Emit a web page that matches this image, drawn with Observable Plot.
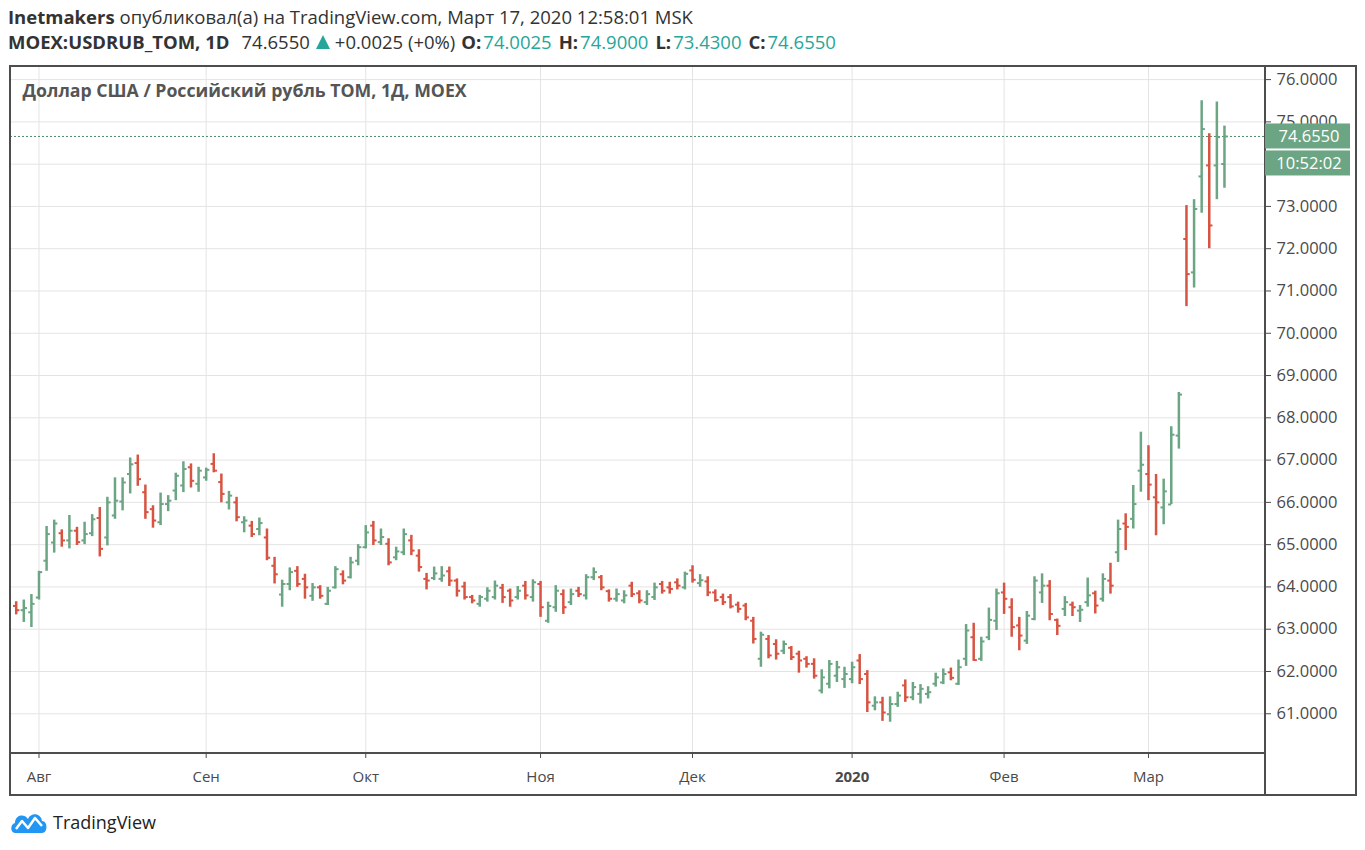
<!DOCTYPE html>
<html><head><meta charset="utf-8">
<script src="https://cdn.jsdelivr.net/npm/d3@7"></script>
<script src="https://cdn.jsdelivr.net/npm/@observablehq/plot@0.6"></script>
<style>
body{margin:0;background:#fff;font-family:"Open Sans",sans-serif;width:1365px;height:850px;position:relative;overflow:hidden}
.hl{position:absolute;left:8px;font-size:18.5px;color:#333;white-space:nowrap;line-height:22px;display:flex;align-items:center}
.b{font-weight:bold}
.t{color:#26a69a}
#chart{position:absolute;left:0;top:60px}
#foot{position:absolute;left:10px;top:810px;display:flex;align-items:center;gap:5px;font-size:18px;color:#222}
</style></head><body>
<div class="hl" id="h1" style="top:6px"><span class="b">Inetmakers</span><span style="margin-left:5px">опубликовал(а) на TradingView.com, Март 17, 2020 12:58:01 MSK</span></div>
<div class="hl" id="h2" style="top:31px"><span class="b">MOEX:USDRUB_TOM, 1D</span><span style="margin-left:12px">74.6550</span><svg style="margin-left:6px" width="14" height="14" viewBox="0 0 14 14"><path d="M7 0 L14 14 L0 14 Z" fill="#26a69a"/></svg><span style="margin-left:5px">+0.0025 (+0%)</span><span class="b" style="margin-left:6px">O:</span><span class="t" style="margin-left:2px">74.0025</span><span class="b" style="margin-left:7px">H:</span><span class="t" style="margin-left:2px">74.9000</span><span class="b" style="margin-left:7px">L:</span><span class="t" style="margin-left:2px">73.4300</span><span class="b" style="margin-left:7px">C:</span><span class="t" style="margin-left:2px">74.6550</span></div>
<div id="chart"></div>
<div id="foot"><svg width="38" height="24" viewBox="0 0 38 24"><path d="M5 23 C0 23 0 14 5 13 C5 5 14 3 18 9 C21 2 31 3 32 11 C38 11 38 23 32 23 Z" fill="#2196f3"/><polyline points="6,19 12,11 18,18 25,8 32,16" fill="none" stroke="#fff" stroke-width="2.5" stroke-linejoin="round"/></svg><span>TradingView</span></div>
<script>
const open  = [63.55,63.45,63.40,63.75,64.62,65.05,65.27,65.10,65.33,65.10,65.27,65.63,65.17,65.69,66.02,66.67,66.93,66.24,65.84,65.53,65.96,66.28,
66.40,66.83,66.44,66.59,66.91,66.48,66.00,66.00,65.53,65.45,65.37,65.17,64.50,63.82,64.07,64.38,64.19,63.79,63.99,63.60,63.99,64.30,64.23,
64.62,64.94,65.45,65.06,65.02,64.70,64.82,65.10,64.74,64.19,64.21,64.19,64.37,64.15,64.01,63.76,63.60,63.72,63.76,63.98,63.91,63.76,
64.03,63.76,64.07,63.20,63.52,63.83,63.64,63.91,63.80,64.23,64.23,63.90,63.72,63.68,64.03,63.85,63.64,63.76,64.07,63.99,64.11,63.99,64.39,64.09,64.13,
63.87,63.76,63.76,63.58,63.56,63.20,62.30,62.77,62.65,62.49,62.56,62.42,62.30,62.18,61.55,61.71,61.90,61.82,61.82,62.26,61.94,61.19,61.27,60.99,
61.23,61.67,61.39,61.47,61.47,61.71,61.74,61.98,61.71,62.30,62.81,62.30,62.81,63.20,63.87,63.52,63.09,62.73,63.24,63.87,64.03,63.22,
63.48,63.58,63.44,63.64,63.85,63.72,64.15,64.82,65.50,65.61,66.75,66.67,66.12,65.88,65.95,67.58,72.23,71.44,73.71,73.97,73.97,74.0025];
const high  = [63.65,63.69,63.82,64.37,65.43,65.58,65.35,65.69,65.41,65.53,65.71,65.88,66.12,66.58,66.58,67.05,67.12,66.41,65.92,66.22,66.16,66.69,
66.96,66.91,66.83,66.81,67.15,66.67,66.26,66.12,65.66,65.55,65.63,65.37,64.70,64.16,64.45,64.48,64.30,64.08,64.03,63.99,64.48,64.38,64.70,
65.00,65.45,65.55,65.37,65.14,64.94,65.37,65.22,64.88,64.32,64.47,64.48,64.47,64.19,64.11,63.80,63.80,63.98,64.14,64.06,63.95,64.01,
64.13,64.17,64.13,63.64,64.03,63.93,63.95,63.99,64.29,64.45,64.27,63.93,63.95,63.91,64.11,63.91,63.91,64.09,64.13,64.11,64.19,64.35,64.50,64.29,64.24,
63.93,63.83,63.82,63.64,63.61,63.28,62.93,62.85,62.75,62.72,62.59,62.48,62.35,62.30,62.04,62.26,62.24,62.10,62.22,62.40,62.02,61.40,61.39,61.40,
61.51,61.80,61.74,61.69,61.64,61.96,62.06,62.08,62.27,63.11,63.14,62.81,63.50,63.95,64.09,63.72,63.28,63.42,64.24,64.31,64.15,63.24,
63.77,63.64,63.56,64.21,63.90,64.31,64.56,65.58,65.73,66.40,67.66,67.34,66.66,66.55,67.79,68.60,73.02,73.16,75.50,74.72,75.47,74.90];
const low   = [63.34,63.16,63.04,63.69,64.37,64.80,64.94,64.90,64.98,65.00,65.19,64.71,64.97,65.60,65.80,66.20,66.38,65.60,65.39,65.45,65.78,66.04,
66.23,66.34,66.24,66.50,66.70,65.99,65.82,65.54,65.28,65.17,65.21,64.62,64.07,63.52,63.91,63.99,63.71,63.66,63.71,63.56,63.95,64.05,64.19,
64.50,64.90,64.98,64.98,64.50,64.62,64.74,64.74,64.35,63.93,64.15,64.11,64.01,63.76,63.69,63.60,63.52,63.64,63.69,63.61,63.52,63.69,
63.69,63.64,63.28,63.14,63.40,63.35,63.56,63.75,63.69,64.15,63.91,63.64,63.64,63.60,63.75,63.60,63.56,63.68,63.83,63.83,63.93,63.93,64.09,63.99,63.77,
63.64,63.56,63.48,63.38,63.20,62.65,62.10,62.30,62.27,62.40,62.26,61.96,62.08,61.82,61.47,61.59,61.74,61.60,61.71,61.69,61.03,61.07,60.82,60.80,
61.15,61.27,61.31,61.23,61.35,61.63,61.69,61.78,61.67,62.12,62.24,62.24,62.73,62.97,63.35,62.81,62.49,62.64,63.20,63.61,63.20,62.85,
63.30,63.30,63.16,63.52,63.36,63.64,63.83,64.58,64.86,65.37,66.24,66.04,65.21,65.47,65.95,67.26,70.63,71.07,72.84,72.00,73.16,73.43];
const close = [63.45,63.50,63.60,64.35,65.25,65.50,65.10,65.33,65.06,65.25,65.60,64.90,66.00,66.04,66.47,66.90,66.55,65.77,65.57,65.96,66.04,66.63,
66.79,66.51,66.75,66.77,66.75,66.20,66.16,65.65,65.57,65.25,65.51,64.69,64.30,64.07,64.35,64.07,63.99,63.99,63.79,63.91,64.42,64.15,64.58,
64.94,65.29,65.10,65.18,64.58,64.84,65.25,64.86,64.47,64.15,64.32,64.27,64.15,63.91,63.76,63.68,63.76,63.91,64.03,63.76,63.68,63.91,
63.80,64.11,63.52,63.55,63.91,63.52,63.83,63.83,64.23,64.35,63.99,63.72,63.83,63.80,63.83,63.68,63.83,63.99,63.91,63.95,64.03,64.31,64.17,64.16,63.87,
63.69,63.64,63.54,63.48,63.28,62.77,62.87,62.38,62.42,62.65,62.34,62.26,62.18,61.90,61.86,62.18,62.10,61.94,62.10,61.82,61.27,61.27,61.03,61.23,
61.43,61.39,61.63,61.59,61.51,61.86,61.94,61.85,62.10,62.97,62.27,62.71,63.22,63.85,63.72,63.05,62.85,63.32,64.15,64.03,63.36,63.08,
63.64,63.52,63.46,63.80,63.56,64.19,64.03,65.37,65.42,65.96,66.89,66.42,66.00,66.26,67.60,68.55,71.40,72.94,74.83,72.55,74.64,74.655];

const monthLabels = ["Авг","Сен","Окт","Ноя","Дек","2020","Фев","Мар"];
const monthStart  = [3,25,46,69,89,110,130,149];
const yTicks = [61,62,63,64,65,66,67,68,69,70,71,72,73,74,75,76];
const yLabelTicks = [61,62,63,64,65,66,67,68,69,70,71,72,73,75,76]; // 74.0000 is hidden behind the time tag
const lastPrice = 74.655;
const lastTime = "10:52:02";
const title = "Доллар США / Российский рубль TOM, 1Д, MOEX";

const UP = "#6ba583", DN = "#d75442";
const bars = open.map((o,i)=>({i, o, h:high[i], l:low[i], c:close[i], col: close[i] >= o ? UP : DN}));
const yearIdx = monthStart[monthLabels.indexOf("2020")];
const lab = d => monthLabels[monthStart.indexOf(d)];

const plot = Plot.plot({
  width:1365, height:745,
  marginLeft:10, marginRight:100, marginTop:6, marginBottom:52,
  style:{fontFamily:"'Open Sans', sans-serif", fontSize:"16px", background:"transparent", overflow:"visible"},
  x:{domain:[-0.75,164.4], axis:null},
  y:{domain:[60.06,76.31], axis:null},
  color:{type:"identity"},
  marks:[
    Plot.gridY(yTicks,{stroke:"#e4e4e4", strokeOpacity:1}),
    Plot.gridX(monthStart,{stroke:"#e4e4e4", strokeOpacity:1}),
    Plot.axisY(yTicks,{anchor:"right", tickFormat:null, text:null, label:null, tickSize:5, stroke:"#4a4a4a"}),
    Plot.axisY(yLabelTicks,{anchor:"right", tickFormat:d=>d.toFixed(4), label:null, tickSize:0, tickPadding:11, fill:"#4a4a4a", fontSize:16.5}),
    Plot.axisX(monthStart.filter(d=>d!==yearIdx),{anchor:"bottom", tickFormat:lab, label:null, tickSize:5, tickPadding:13, color:"#4a4a4a", fontSize:15}),
    Plot.axisX([yearIdx],{anchor:"bottom", tickFormat:lab, label:null, tickSize:5, tickPadding:13, color:"#4a4a4a", fontSize:15, fontWeight:"bold"}),
    Plot.ruleY([lastPrice],{stroke:"#4f8a6a", strokeDasharray:"2,2", strokeWidth:1}),
    Plot.ruleX(bars,{x:"i", y1:"l", y2:"h", stroke:"col", strokeWidth:2.5}),
    Plot.link(bars,{x1:d=>d.i-0.42, x2:"i", y1:"o", y2:"o", stroke:"col", strokeWidth:2}),
    Plot.link(bars,{x1:"i", x2:d=>d.i+0.42, y1:"c", y2:"c", stroke:"col", strokeWidth:2}),
    Plot.text([title],{frameAnchor:"top-left", dx:12, dy:25, lineAnchor:"middle", textAnchor:"start", fontWeight:"bold", fontSize:17.7, fill:"#555"})
  ]
});
document.getElementById("chart").appendChild(plot);

const svg = d3.select(plot);
const ys = plot.scale("y");
const yy = ys.apply(lastPrice);
const fr = svg.append("g").attr("fill","none").attr("stroke","#4d4d4d").attr("stroke-width",2);
fr.append("rect").attr("x",10).attr("y",6).attr("width",1346).attr("height",729);
fr.append("line").attr("x1",1265).attr("x2",1265).attr("y1",6).attr("y2",735);
fr.append("line").attr("x1",10).attr("x2",1265).attr("y1",693).attr("y2",693);
const tg = svg.append("g").attr("font-family","'Open Sans', sans-serif").attr("font-size",16.5);
tg.append("rect").attr("x",1265).attr("y",yy-12.5).attr("width",85).attr("height",25).attr("fill",UP);
tg.append("text").attr("x",1309).attr("y",yy).attr("dy","0.35em").attr("text-anchor","middle").attr("fill","#fff").text(lastPrice.toFixed(4));
tg.append("rect").attr("x",1265).attr("y",yy+14.5).attr("width",85).attr("height",25).attr("fill",UP);
tg.append("text").attr("x",1309).attr("y",yy+27).attr("dy","0.35em").attr("text-anchor","middle").attr("fill","#fff").text(lastTime);
</script>
</body></html>
